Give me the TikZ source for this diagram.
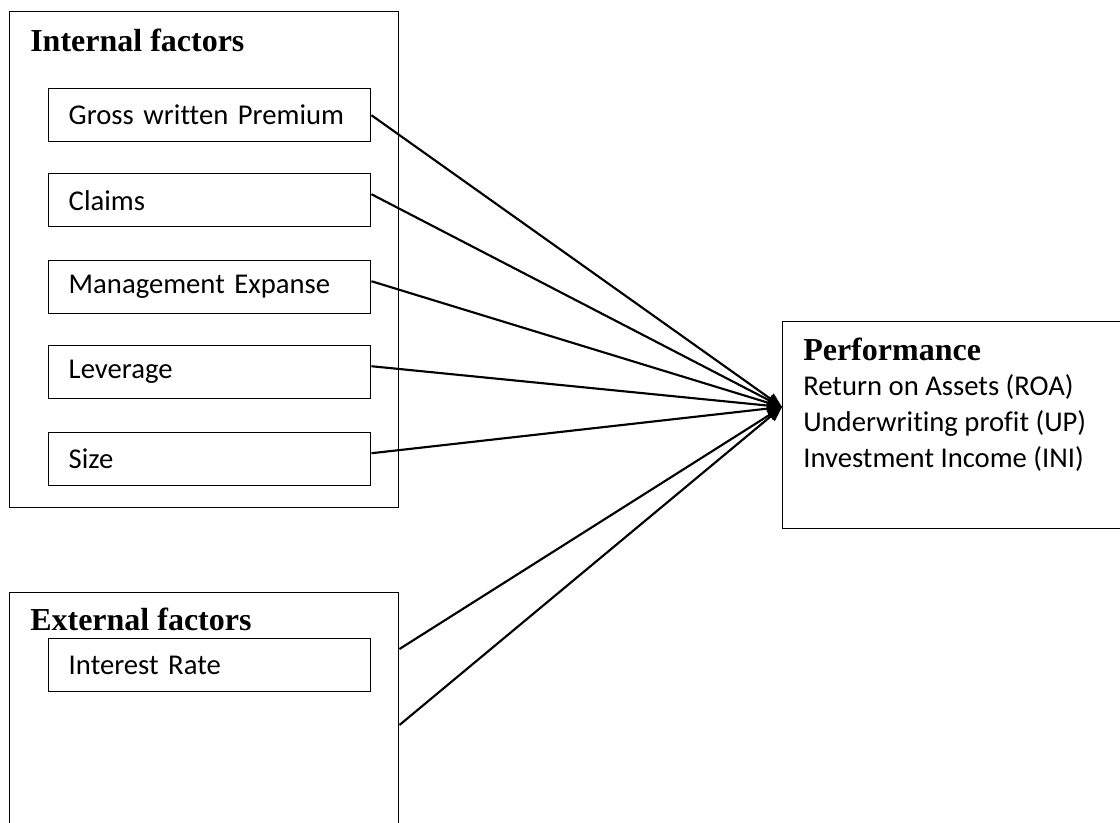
\documentclass[tikz,border=0pt]{standalone}
\usepackage{fontspec}
\setmainfont[Ligatures=NoCommon]{Carlito}
\newfontfamily\titlefont{Liberation Serif}
\usetikzlibrary{arrows.meta,positioning}

\tikzset{
  group/.style={draw, line width=1.1pt, anchor=north west, inner sep=0pt},
  factor/.style={draw, line width=1.1pt, anchor=north west, minimum width=241.5pt,
    minimum height=39.75pt, inner xsep=15pt, text width=211.5pt, align=left,
    font=\fontsize{21.5}{26}\selectfont},
  heading/.style={anchor=base west, inner sep=0pt, font=\titlefont\bfseries\fontsize{24}{28}\selectfont},
  item/.style={anchor=base west, inner sep=0pt, font=\fontsize{21.5}{26}\selectfont},
  link/.style={line width=1.6pt, -{Triangle[length=11pt,width=9pt]}}
}

\begin{document}
\begin{tikzpicture}[x=0.75pt,y=-0.75pt]
    \clip (0,0) rectangle (1120,823);

    % group boxes
    \node[group, minimum width=291.75pt, minimum height=372pt] (internal) at (9,11) {};
    \node[group, minimum width=291.75pt, minimum height=195pt] (external) at (9,592) {};
    \node[group, minimum width=268.5pt, minimum height=155.25pt] (perf) at (782,321) {};

    \node[heading] (inttitle) at (30,52) {Internal factors};
    \node[heading] (exttitle) at (30,630) {External factors};
    \node[heading] (perftitle) at (803,360) {Performance};

    % factor boxes
    \node[factor] (gwp) at (48,88) {Gross written Premium};
    \node[factor] (claims) at (48,173) {Claims};
    \node[factor] (mgmt) at (48,260) {Management Expanse};
    \node[factor] (lev) at (48,345) {Leverage};
    \node[factor] (size) at (48,432) {Size};
    \node[factor] (rate) at (48,638) {Interest Rate};

    \foreach \t [count=\i] in {Return on Assets (ROA), Underwriting profit (UP), Investment Income (INI)}
        \node[item] (perf\i) at (803,{359+36*\i}) {\t};

    % connectors
    \coordinate (hub) at (782,407);
    \coordinate (ext1) at ([yshift=-42.75pt]external.north east);
    \coordinate (ext2) at ([yshift=-99.75pt]external.north east);

    \draw[link] (gwp.east) -- (hub);
    \foreach \f in {claims,mgmt,lev,size}
        \draw[link] ([yshift=4.5pt]\f.east) -- (hub);
    \draw[link] (ext1) -- (hub);
    \draw[link] (ext2) -- (hub);
\end{tikzpicture}
\end{document}
